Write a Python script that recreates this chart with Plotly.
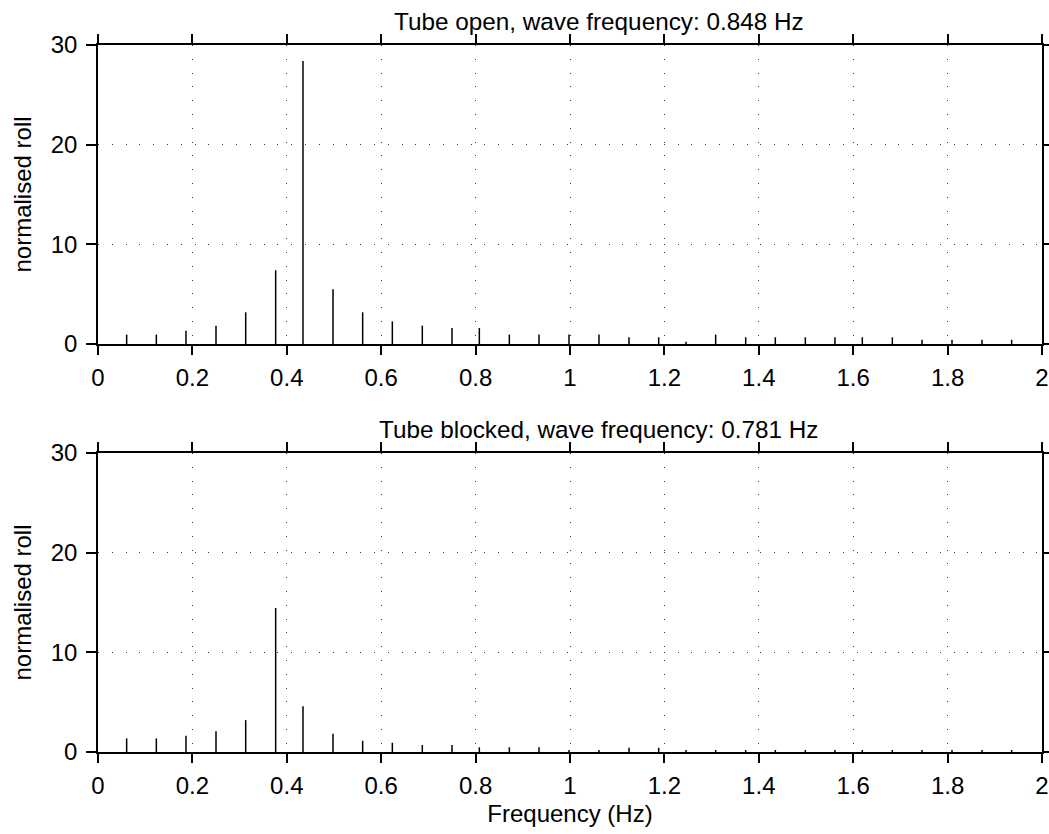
import plotly.graph_objects as go

# Frequencies of spectral lines (Hz)
freq = [0.0607, 0.1236, 0.1864, 0.25, 0.3129, 0.3764, 0.4343, 0.4979, 0.5607, 0.6236,
        0.6871, 0.75, 0.8079, 0.8715, 0.9343, 0.9979, 1.0614, 1.125, 1.1879, 1.2458,
        1.3086, 1.3722, 1.435, 1.4986, 1.5614, 1.6193, 1.6829, 1.7458, 1.8093, 1.8729,
        1.9357]

roll_open = [0.94, 0.94, 1.34, 1.84, 3.18, 7.4, 28.4, 5.5, 3.18, 2.27,
             1.84, 1.6, 1.6, 0.94, 0.94, 0.94, 0.94, 0.67, 0.67, 0.23,
             0.94, 0.67, 0.67, 0.67, 0.67, 0.67, 0.67, 0.43, 0.43, 0.43,
             0.43]

roll_blocked = [1.37, 1.37, 1.63, 2.07, 3.2, 14.45, 4.6, 1.83, 1.13, 0.93,
                0.7, 0.7, 0.47, 0.47, 0.47, 0.2, 0.2, 0.42, 0.42, 0.2,
                0.2, 0.2, 0.2, 0.2, 0.2, 0.2, 0.2, 0.2, 0.2, 0.2,
                0.2]

titles = ["Tube open, wave frequency: 0.848 Hz", "Tube blocked, wave frequency: 0.781 Hz"]
x_ticks = [0, 0.2, 0.4, 0.6, 0.8, 1, 1.2, 1.4, 1.6, 1.8, 2]
x_ticktext = ["0", "0.2", "0.4", "0.6", "0.8", "1", "1.2", "1.4", "1.6", "1.8", "2"]
y_ticks = [0, 10, 20, 30]

FONT = "Liberation Sans, Arial, sans-serif"
FS = 24


def stems(xs, ys):
    sx, sy = [], []
    for x, y in zip(xs, ys):
        sx += [x, x, None]
        sy += [0, y, None]
    return sx, sy


fig = go.Figure()
for i, vals in enumerate([roll_open, roll_blocked]):
    sx, sy = stems(freq, vals)
    fig.add_trace(go.Scatter(
        x=sx, y=sy, mode="lines",
        line=dict(color="black", width=1.5),
        xaxis="x" if i == 0 else "x2",
        yaxis="y" if i == 0 else "y2",
        showlegend=False, hoverinfo="skip"))

common_x = dict(range=[0, 2], tickvals=x_ticks, ticktext=x_ticktext, automargin=False,
                showline=True, linecolor="black", linewidth=1.5, mirror="ticks",
                ticks="outside", ticklen=9, tickwidth=1.5, tickcolor="black",
                showgrid=True, gridcolor="#333333", gridwidth=1, griddash="1px,12.8px",
                zeroline=False, tickfont=dict(family=FONT, size=FS, color="black"),
                ticklabelstandoff=2)
common_y = dict(range=[0, 30], tickvals=y_ticks, automargin=False,
                showline=True, linecolor="black", linewidth=1.5, mirror="ticks",
                ticks="outside", ticklen=10, tickwidth=1.5, tickcolor="black",
                showgrid=True, gridcolor="#333333", gridwidth=1, griddash="1px,12.8px",
                zeroline=False, tickfont=dict(family=FONT, size=FS, color="black"),
                ticklabelstandoff=4,
                title=dict(text="normalised roll", font=dict(family=FONT, size=FS, color="black"),
                           standoff=12))

fig.update_layout(
    width=1049, height=834,
    margin=dict(l=98, r=7, t=45, b=82),
    paper_bgcolor="white", plot_bgcolor="white",
    font=dict(family=FONT, size=FS, color="black"),
    xaxis=dict(domain=[0, 1], anchor="y", **common_x),
    yaxis=dict(domain=[0.5771, 1], anchor="x", **common_y),
    xaxis2=dict(domain=[0, 1], anchor="y2",
                title=dict(text="Frequency (Hz)", font=dict(family=FONT, size=FS, color="black"),
                           standoff=8),
                **common_x),
    yaxis2=dict(domain=[0, 0.4229], anchor="x2", **common_y),
)

for i, t in enumerate(titles):
    fig.add_annotation(text=t, xref="x domain" if i == 0 else "x2 domain",
                       yref="y domain" if i == 0 else "y2 domain",
                       x=0.5307, y=1, xanchor="center", yanchor="bottom", yshift=8,
                       showarrow=False, font=dict(family=FONT, size=24.3, color="black"))

fig.write_html("out.html", config={"displayModeBar": False},
               post_script="document.body.style.margin='0';document.body.style.overflow='hidden';")
